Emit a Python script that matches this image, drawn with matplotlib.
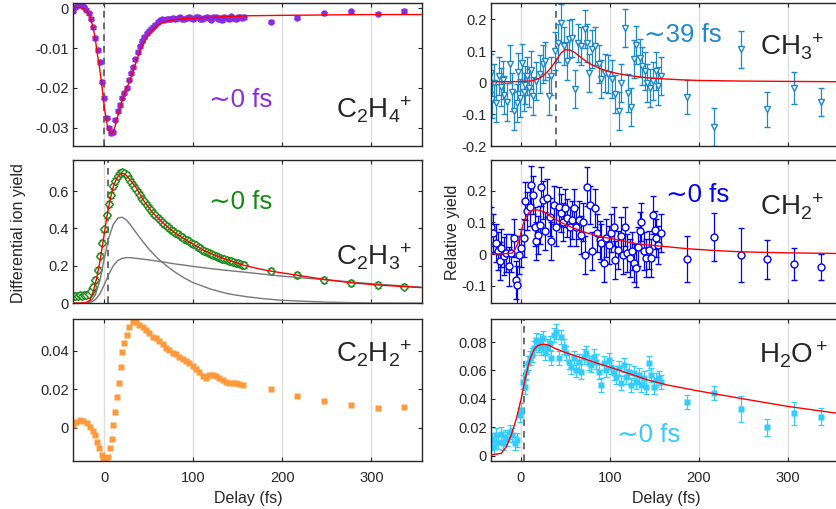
import matplotlib
matplotlib.use("Agg")
import matplotlib.pyplot as plt
from matplotlib.ticker import FormatStrFormatter

plt.rcParams["font.family"] = ["Liberation Sans", "DejaVu Sans"]
plt.rcParams["axes.unicode_minus"] = False
plt.rcParams["mathtext.fontset"] = "custom"
plt.rcParams["mathtext.rm"] = "Liberation Sans"
plt.rcParams["mathtext.it"] = "Liberation Sans:italic"
plt.rcParams["mathtext.bf"] = "Liberation Sans:bold"

# ---- data ----
# common scan grid for the smooth traces
t_scan = [-35, -32.5, -30, -27.5, -25, -22.5, -20, -17.5, -15, -12.5,
          -10, -7.5, -5, -2.5, 0, 2.5, 5, 7.5, 10, 12.5,
          15, 17.5, 20, 22.5, 25, 27.5, 30, 32.5, 35, 37.5,
          40, 42.5, 45, 47.5, 50, 52.5, 55, 57.5, 60, 62.5,
          65, 67.5, 70, 72.5, 75, 77.5, 80, 82.5, 85, 87.5,
          90, 92.5, 95, 97.5, 100, 102.5, 105, 107.5, 110, 112.5,
          115, 117.5, 120, 122.5, 125, 127.5, 130, 132.5, 135, 137.5,
          140, 142.5, 145, 147.5, 150, 152.5, 155, 157.5]
t_sparse = [187, 217, 247, 277, 307, 337]

# C2H4+
c2h4_y = [-0.0006, 0.0002, 0.0009, 0.0010, 0.0007, 0.0002, -0.0004, -0.0013, -0.0026, -0.0048,
          -0.0075, -0.0105, -0.0135, -0.0185, -0.0225, -0.0275, -0.0300, -0.0314, -0.0312, -0.0280,
          -0.0258, -0.0243, -0.0225, -0.0212, -0.0200, -0.0180, -0.0163, -0.0148, -0.0128, -0.0110,
          -0.0096, -0.0082, -0.0072, -0.0063, -0.0057, -0.0052, -0.0046, -0.0041, -0.0034, -0.0030,
          -0.0028, -0.0029, -0.0027, -0.0028, -0.0026, -0.0024, -0.0027, -0.0025, -0.0023, -0.0026,
          -0.0028, -0.0024, -0.0022, -0.0025, -0.0027, -0.0023, -0.0021, -0.0026, -0.0028, -0.0024,
          -0.0022, -0.0025, -0.0029, -0.0023, -0.0021, -0.0026, -0.0024, -0.0030, -0.0022, -0.0025,
          -0.0027, -0.0020, -0.0024, -0.0028, -0.0023, -0.0021, -0.0025, -0.0022]
c2h4_sparse = [-0.0034, -0.0024, -0.0013, -0.0008, -0.0014, -0.0007]
c2h4_err = 0.0004
c2h4_fit_t = [-35.5, -30, -25, -20, -16, -12.5, -10, -8.5, -5, -3, 0, 2, 4, 6.5, 8, 10, 12, 14,
              17, 20, 24, 28.5, 32, 36, 40, 44, 48, 51, 55, 58.5, 65, 73.5, 85, 100, 130,
              164, 200, 250, 300, 356]
c2h4_fit_y = [0.0002, 0.0002, 0.0, -0.0006, -0.0021, -0.0050, -0.0078, -0.0105, -0.0155, -0.0188,
              -0.0248, -0.0278, -0.0300, -0.0313, -0.0315, -0.0310, -0.0298, -0.0280, -0.0256,
              -0.0232, -0.0205, -0.0184, -0.0160, -0.0134, -0.0108, -0.0090, -0.0073, -0.0063,
              -0.0053, -0.0046, -0.0037, -0.0031, -0.0027, -0.0025, -0.0022, -0.0019, -0.0018,
              -0.0017, -0.0016, -0.0016]

# CH3+
ch3_t = [-34, -32.5, -30.5, -27.5, -25, -22, -20.5, -18.5, -15.5, -12,
         -10, -8, -5, -3, -1.5, 1.5, 3, 5, 7, 9.5,
         11, 13.5, 17, 21, 24.5, 27.5, 31, 34, 38, 41.5,
         45.5, 48.5, 52, 54.5, 57.5, 61, 64, 67, 71.5, 74.5,
         77, 80, 83.5, 87.5, 90.5, 94, 98, 102, 106, 110,
         112.5, 116.5, 120, 124, 127, 129.5, 133.5, 136, 139, 142,
         145.5, 148.5, 152, 154.5, 157]
ch3_y = [0.030, -0.050, 0.000, -0.063, 0.020, -0.013, 0.010, -0.040, -0.061, 0.058,
         -0.030, -0.090, -0.063, 0.035, -0.047, 0.063, -0.030, -0.008, 0.020, -0.016,
         0.040, -0.042, 0.005, 0.026, 0.058, 0.068, -0.042, 0.021, 0.100, 0.126,
         0.190, 0.116, 0.068, 0.137, 0.142, -0.021, 0.126, 0.116, 0.168, 0.126,
         0.032, 0.105, 0.116, 0.058, 0.011, 0.032, 0.026, 0.011, -0.037, -0.090,
         0.000, 0.174, -0.034, -0.076, 0.074, 0.120, 0.079, 0.053, 0.037, 0.000,
         -0.016, 0.005, 0.037, -0.011, 0.020]
ch3_err = 0.06
ch3_sparse = [-0.045, -0.140, 0.105, -0.084, -0.016, -0.061]
ch3_sparse_err = [0.055, 0.060, 0.058, 0.055, 0.050, 0.045]
ch3_fit_t = [-34, -10, 0, 10, 15, 20, 25, 30, 35, 40, 45, 50, 55, 60, 65, 70, 75, 80, 90,
             100, 110, 120, 140, 160, 180, 200, 250, 300, 356]
ch3_fit_y = [0.003, 0.003, 0.004, 0.005, 0.008, 0.013, 0.022, 0.035, 0.052, 0.072, 0.094, 0.104,
             0.103, 0.096, 0.085, 0.074, 0.064, 0.056, 0.043, 0.034, 0.028, 0.023, 0.016, 0.012,
             0.009, 0.007, 0.005, 0.004, 0.003]

# C2H3+
c2h3_y = [0.040, 0.041, 0.040, 0.042, 0.041, 0.043, 0.045, 0.052, 0.065, 0.088,
          0.125, 0.180, 0.255, 0.325, 0.395, 0.470, 0.530, 0.580, 0.625, 0.655,
          0.680, 0.695, 0.700, 0.695, 0.685, 0.665, 0.650, 0.630, 0.615, 0.595,
          0.578, 0.560, 0.545, 0.528, 0.512, 0.497, 0.484, 0.470, 0.458, 0.447,
          0.435, 0.424, 0.413, 0.404, 0.394, 0.386, 0.378, 0.370, 0.362, 0.354,
          0.346, 0.339, 0.331, 0.325, 0.318, 0.310, 0.302, 0.295, 0.287, 0.281,
          0.275, 0.268, 0.263, 0.258, 0.253, 0.248, 0.243, 0.239, 0.235, 0.232,
          0.228, 0.224, 0.221, 0.217, 0.213, 0.210, 0.207, 0.204]
c2h3_sparse = [0.174, 0.152, 0.125, 0.107, 0.098, 0.089]
c2h3_err = 0.015
c2h3_fit_t = [-35.5, -25, -20, -16, -12.4, -8.6, -4.9, -1.1, 2.6, 6.4, 10.1, 13.9, 17.6, 21.4,
              25.1, 28.9, 36.3, 43.8, 55, 66.3, 77.5, 88.8, 100, 111.3, 122.5, 133.8, 145,
              156.3, 175, 187, 217, 247, 277, 307, 337, 356]
c2h3_fit_y = [0.0, 0.001, 0.005, 0.017, 0.063, 0.134, 0.223, 0.339, 0.454, 0.552, 0.624, 0.668,
              0.692, 0.695, 0.683, 0.660, 0.615, 0.552, 0.481, 0.428, 0.383, 0.347, 0.315, 0.284,
              0.261, 0.240, 0.222, 0.204, 0.183, 0.172, 0.150, 0.128, 0.110, 0.098, 0.089, 0.084]
comp_t = [-35.5, -25, -20, -15, -10, -5, 0, 5, 10, 15, 20, 25, 30, 40, 50, 60, 70, 80, 90, 100,
          120, 140, 160, 180, 200, 250, 300, 356]
comp_fast = [0.0, 0.0, 0.003, 0.012, 0.045, 0.120, 0.240, 0.350, 0.420, 0.455, 0.460, 0.445,
             0.415, 0.350, 0.290, 0.240, 0.200, 0.165, 0.135, 0.110, 0.075, 0.050, 0.035, 0.024,
             0.016, 0.006, 0.002, 0.001]
comp_slow = [0.0, 0.0, 0.001, 0.005, 0.020, 0.050, 0.100, 0.155, 0.200, 0.228, 0.240, 0.244,
             0.244, 0.238, 0.232, 0.225, 0.218, 0.210, 0.204, 0.197, 0.185, 0.175, 0.165, 0.155,
             0.145, 0.125, 0.105, 0.086]

# CH2+
ch2_t = [-33.3, -31.4, -27.7, -25.8, -23.9, -22.1, -19.1, -16.5, -13.9, -10.9,
         -7.9, -5.3, -4.2, -2.7, 0.4, 3.4, 4.9, 7.1, 9.7, 11.6,
         13.5, 15.4, 17.2, 19.1, 21.0, 22.8, 24.7, 27.3, 29.6, 32.2,
         34.1, 37.1, 39.7, 42.3, 44.6, 47.2, 49.8, 52.1, 54.7, 57.3,
         59.6, 62.2, 64.8, 67.1, 69.7, 71.5, 74.5, 77.1, 79.8, 82.8,
         85.8, 88.4, 90.3, 93.3, 95.9, 98.5, 101.5, 104.5, 106.0, 109.0,
         112.0, 114.6, 116.5, 119.5, 122.1, 124.7, 126.9, 129.6, 131.5, 133.3,
         135.2, 138.2, 140.8, 143.4, 145.7, 148.3, 150.2, 152.1, 154.0, 157.0]
ch2_y = [0.087, 0.066, 0.035, 0.009, -0.023, 0.019, -0.007, 0.003, -0.039, 0.003,
         0.050, -0.081, -0.097, -0.002, 0.019, 0.050, 0.166, 0.135, 0.150, 0.218,
         0.187, 0.087, 0.040, 0.061, 0.092, 0.213, 0.171, 0.072, 0.176, 0.118,
         0.040, 0.155, 0.087, 0.150, 0.129, 0.102, 0.144, 0.113, 0.087, 0.107,
         0.144, 0.087, 0.107, 0.061, 0.102, -0.002, 0.213, 0.155, 0.009, 0.144,
         0.066, 0.045, 0.035, -0.028, 0.050, 0.030, 0.066, 0.087, -0.018, 0.014,
         0.056, -0.002, 0.087, 0.003, -0.013, 0.009, -0.028, -0.044, 0.024, 0.072,
         0.102, 0.009, -0.013, 0.014, -0.013, 0.124, 0.077, 0.050, 0.030, 0.066]
ch2_err = 0.06
ch2_sparse = [-0.016, 0.053, -0.003, -0.016, -0.031, -0.041]
ch2_sparse_err = [0.072, 0.075, 0.085, 0.062, 0.050, 0.040]
ch2_fit_t = [-34, -20, -10, -7.1, -4, -1.5, 2.2, 5.9, 8.5, 11.6, 15, 19.1, 23, 28.5, 33, 37.8,
             45, 52.8, 60, 67.8, 76, 86.5, 95, 105.2, 115, 127.7, 138, 150.2, 169, 187, 220,
             250, 300, 354]
ch2_fit_y = [0.001, 0.001, 0.003, 0.013, 0.030, 0.050, 0.092, 0.118, 0.130, 0.136, 0.139, 0.139,
             0.136, 0.129, 0.120, 0.111, 0.100, 0.090, 0.081, 0.073, 0.065, 0.057, 0.052, 0.047,
             0.041, 0.034, 0.030, 0.027, 0.022, 0.017, 0.011, 0.007, 0.004, 0.002]

# C2H2+
c2h2_t = [-35.5, -31.8, -27.3, -23.6, -19.8, -16.1, -13.1, -10.5, -7.9, -5.7,
          -3.1, -1.2, 1.8, 4.4, 6.3, 8.2, 10.1, 11.9, 13.8, 16.4,
          18.3, 20.2, 22, 25, 27.6, 31.8, 35.5, 39.2, 43, 46.7,
          50.4, 54.2, 57.9, 61.7, 65.4, 69.2, 72.9, 76.7, 80.4, 84.2,
          87.9, 91.7, 95.4, 99.2, 102.9, 106.7, 110.4, 114.2, 117.9, 121.7,
          125.4, 129.2, 132.9, 136.7, 140.4, 144.2, 147.9, 151.7, 155.4]
c2h2_y = [0.0014, 0.0030, 0.0039, 0.0034, 0.0022, 0.0005, -0.0017, -0.0038, -0.0073, -0.0107,
          -0.0142, -0.0163, -0.0160, -0.0150, -0.0107, -0.0059, 0.0014, 0.0083, 0.0161, 0.0234,
          0.0314, 0.0395, 0.0442, 0.0482, 0.0525, 0.0551, 0.0547, 0.0533, 0.0525, 0.0508,
          0.0490, 0.0473, 0.0465, 0.0451, 0.0434, 0.0416, 0.0404, 0.0390, 0.0381, 0.0369,
          0.0357, 0.0346, 0.0334, 0.0322, 0.0304, 0.0287, 0.0269, 0.0259, 0.0273, 0.0273,
          0.0268, 0.0259, 0.0247, 0.0239, 0.0234, 0.0234, 0.0230, 0.0225, 0.0222]
c2h2_sparse = [0.0201, 0.0166, 0.0139, 0.0119, 0.0102, 0.0108]

# H2O+
h2o_t = [-35.2, -32.6, -30.3, -27.7, -25.8, -22.8, -20.2, -18.4, -15.4, -12.7,
         -10.1, -7.1, -4.1, -1.5, 0.4, 2.2, 4.1, 6.0, 7.9, 9.7,
         12.4, 14.6, 17.2, 19.1, 21.0, 22.8, 24.7, 26.6, 29.6, 32.2,
         34.1, 37.1, 39.7, 42.3, 45.3, 48.3, 50.9, 53.6, 56.6, 59.6,
         62.2, 64.8, 67.8, 70.8, 73.4, 76.0, 79.0, 82.0, 84.6, 87.3,
         90.3, 93.3, 95.9, 98.5, 101.5, 104.5, 107.1, 109.8, 112.7, 115.7,
         118.4, 121.0, 124.0, 126.9, 129.6, 132.2, 135.2, 138.2, 140.8, 143.4,
         146.4, 149.4, 152.1, 154.7, 157.0]
h2o_y = [0.0087, 0.0111, 0.0064, 0.0144, 0.0097, 0.0155, 0.0087, 0.0134, 0.0118, 0.0169,
         0.0146, 0.0087, 0.0111, 0.0286, 0.0322, 0.0521, 0.0486, 0.0592, 0.0651, 0.0686,
         0.0709, 0.0756, 0.0815, 0.0780, 0.0803, 0.0756, 0.0827, 0.0721, 0.0768, 0.0792,
         0.0686, 0.0850, 0.0874, 0.0686, 0.0838, 0.0768, 0.0721, 0.0663, 0.0627, 0.0686,
         0.0604, 0.0663, 0.0592, 0.0698, 0.0721, 0.0651, 0.0639, 0.0698, 0.0663, 0.0592,
         0.0498, 0.0651, 0.0604, 0.0674, 0.0627, 0.0580, 0.0557, 0.0616, 0.0510, 0.0639,
         0.0557, 0.0592, 0.0498, 0.0580, 0.0521, 0.0568, 0.0498, 0.0545, 0.0486, 0.0651,
         0.0568, 0.0486, 0.0533, 0.0545, 0.0521]
h2o_err = 0.005
h2o_sparse = [0.0380, 0.0444, 0.0327, 0.0200, 0.0299, 0.0275]
h2o_sparse_err = [0.005, 0.005, 0.009, 0.006, 0.008, 0.006]
h2o_fit_t = [-34, -22.1, -16.5, -10.9, -5.2, 0.4, 4.1, 7.9, 10.5, 13.5, 16, 19.1, 22.5, 26.6, 31,
             37.8, 45, 52.8, 62, 75.3, 86, 97.8, 110, 120.2, 130, 142.7, 155, 165, 200, 250,
             300, 354]
h2o_fit_y = [0.0005, 0.0017, 0.0063, 0.0146, 0.0260, 0.0404, 0.0521, 0.0627, 0.0685, 0.0732,
             0.0758, 0.0775, 0.0782, 0.0784, 0.0778, 0.0756, 0.0738, 0.0720, 0.0701, 0.0674,
             0.0650, 0.0627, 0.0603, 0.0580, 0.0560, 0.0533, 0.0513, 0.0497, 0.0455, 0.0400,
             0.0347, 0.0300]

# ---- colours ----
PURPLE = "#8A2BE2"
SKY = "#1E88CC"
GREEN = "#1A8C1A"
BLUE = "#0000FF"
ORANGE = "#FF9A3C"
CYAN = "#33CCFF"
RED = "#FF0000"
INK = "#262626"

W, H = 836, 509
fig = plt.figure(figsize=(W / 100, H / 100), dpi=100)


def add_axes(x0, y0, x1, y1):
    return fig.add_axes([x0 / W, 1 - y1 / H, (x1 - x0) / W, (y1 - y0) / H])


def style(ax, xlim, ylim, yticks, xlabels, right_spine=True):
    ax.set_xlim(xlim)
    ax.set_ylim(ylim)
    ax.set_xticks([0, 100, 200, 300])
    ax.set_yticks(yticks)
    ax.yaxis.set_major_formatter(FormatStrFormatter("%g"))
    ax.grid(axis="x", color="#dddddd", lw=1)
    ax.set_axisbelow(True)
    for s in ax.spines.values():
        s.set_color(INK)
        s.set_linewidth(1)
    ax.spines["right"].set_visible(right_spine)
    ax.tick_params(direction="in", length=3, width=0.8, top=True, right=right_spine,
                   labelsize=10.5, colors=INK, pad=3)
    ax.tick_params(axis="x", labelbottom=xlabels, pad=7.5)


def dashed(ax, t0):
    ax.axvline(t0, color="#555555", lw=1.2, ls=(0, (4, 3)), zorder=1.5)


def label(ax, x, y, text, color, size):
    ax.text(x, y, text, transform=ax.transAxes, color=color, fontsize=size,
            ha="left", va="baseline", family=["Liberation Sans", "DejaVu Sans"])


rows = [(3, 146), (160, 303.3), (319, 461)]
xl_left = (72.7, 422)
xl_right = (490.7, 836)
lim_left = (-35.5, (422 - 104.3) / 0.89)
lim_right = (-34.0, 354.0)

ax1 = add_axes(xl_left[0], rows[0][0], xl_left[1], rows[0][1])
ax2 = add_axes(xl_right[0], rows[0][0], xl_right[1], rows[0][1])
ax3 = add_axes(xl_left[0], rows[1][0], xl_left[1], rows[1][1])
ax4 = add_axes(xl_right[0], rows[1][0], xl_right[1], rows[1][1])
ax5 = add_axes(xl_left[0], rows[2][0], xl_left[1], rows[2][1])
ax6 = add_axes(xl_right[0], rows[2][0], xl_right[1], rows[2][1])

eb = dict(linestyle="none", elinewidth=0.9, capthick=0.9, capsize=2.2)
FS = 18.5      # delay annotations
SP_L = 20      # species, left column
SP_R = 20      # species, right column

# C2H4+
style(ax1, lim_left, (-0.0346, 0.0013), [-0.03, -0.02, -0.01, 0], False)
dashed(ax1, 0)
ax1.errorbar(t_scan, c2h4_y, yerr=c2h4_err, marker="o", ms=3.6, color=PURPLE, mec=PURPLE, **eb)
ax1.errorbar(t_sparse, c2h4_sparse, yerr=c2h4_err, marker="o", ms=3.6, color=PURPLE, **eb)
ax1.plot(c2h4_fit_t, c2h4_fit_y, color=RED, lw=1, zorder=5)
label(ax1, 0.391, 0.275, "\u223c0 fs", PURPLE, FS)
label(ax1, 0.753, 0.194, r"$\mathrm{C_2H_4\!{}^+}$", INK, SP_L)

# CH3+
style(ax2, lim_right, (-0.2, 0.2516), [-0.2, -0.1, 0, 0.1, 0.2], False, right_spine=False)
dashed(ax2, 39)
ax2.errorbar(ch3_t, ch3_y, yerr=ch3_err, marker="v", ms=5, mfc="white", mec=SKY, color=SKY,
             mew=1, **eb)
ax2.errorbar(t_sparse, ch3_sparse, yerr=ch3_sparse_err, marker="v", ms=5, mfc="white", mec=SKY,
             color=SKY, mew=1, **eb)
ax2.plot(ch3_fit_t, ch3_fit_y, color=RED, lw=1, zorder=5)
label(ax2, 0.444, 0.729, "\u223c39 fs", SKY, FS)
label(ax2, 0.78, 0.636, r"$\mathrm{CH_3\!{}^+}$", INK, SP_R)

# C2H3+
style(ax3, lim_left, (0, 0.766), [0, 0.2, 0.4, 0.6], False)
dashed(ax3, 4)
ax3.errorbar(t_scan, c2h3_y, yerr=c2h3_err, marker="D", ms=3.8, mfc="white", mec=GREEN,
             color=GREEN, mew=1, **eb)
ax3.errorbar(t_sparse, c2h3_sparse, yerr=c2h3_err, marker="D", ms=3.8, mfc="white", mec=GREEN,
             color=GREEN, mew=1, **eb)
ax3.plot(comp_t, comp_fast, color="#777777", lw=1, zorder=4)
ax3.plot(comp_t, comp_slow, color="#777777", lw=1, zorder=4)
ax3.plot(c2h3_fit_t, c2h3_fit_y, color=RED, lw=1, zorder=5)
label(ax3, 0.389, 0.656, "\u223c0 fs", "#138A13", FS)
label(ax3, 0.753, 0.267, r"$\mathrm{C_2H_3\!{}^+}$", INK, SP_L)

# CH2+
style(ax4, lim_right, (-0.155, 0.2966), [-0.1, 0, 0.1, 0.2], False, right_spine=False)
ax4.errorbar(ch2_t, ch2_y, yerr=ch2_err, marker="o", ms=5, mfc="white", mec=BLUE, color=BLUE,
             mew=1, **eb)
ax4.errorbar(t_sparse, ch2_sparse, yerr=ch2_sparse_err, marker="o", ms=5, mfc="white", mec=BLUE,
             color=BLUE, mew=1, **eb)
ax4.plot(ch2_fit_t, ch2_fit_y, color=RED, lw=1, zorder=5)
label(ax4, 0.508, 0.709, "\u223c0 fs", BLUE, FS)
label(ax4, 0.78, 0.616, r"$\mathrm{CH_2\!{}^+}$", INK, SP_R)

# C2H2+
style(ax5, lim_left, (-0.0173, 0.0565), [0, 0.02, 0.04], True)
ax5.plot(c2h2_t, c2h2_y, ls="none", marker="s", ms=4, color=ORANGE, mec="none")
ax5.plot(t_sparse, c2h2_sparse, ls="none", marker="s", ms=4, color=ORANGE, mec="none")
label(ax5, 0.753, 0.695, r"$\mathrm{C_2H_2\!{}^+}$", INK, SP_L)

# H2O+
style(ax6, lim_right, (-0.0037, 0.0962), [0, 0.02, 0.04, 0.06, 0.08], True, right_spine=False)
dashed(ax6, 3)
ax6.errorbar(h2o_t, h2o_y, yerr=h2o_err, marker="s", ms=4.3, color=CYAN, mec="none", **eb)
ax6.errorbar(t_sparse, h2o_sparse, yerr=h2o_sparse_err, marker="s", ms=4.3, color=CYAN,
             mec="none", **eb)
ax6.plot(h2o_fit_t, h2o_fit_y, color=RED, lw=1, zorder=5)
label(ax6, 0.365, 0.136, "\u223c0 fs", CYAN, FS)
label(ax6, 0.778, 0.688, r"$\mathrm{H_2O^+}$", INK, SP_R)

# axis titles
fig.text(19 / W, 1 - 233 / H, "Differential ion yield", rotation=90, ha="center", va="center",
         fontsize=11.5, color=INK)
fig.text(452 / W, 1 - 232 / H, "Relative yield", rotation=90, ha="center", va="center",
         fontsize=11.5, color=INK)
fig.text(248 / W, 1 - 499 / H, "Delay (fs)", ha="center", va="center", fontsize=11.5, color=INK)
fig.text(666 / W, 1 - 499 / H, "Delay (fs)", ha="center", va="center", fontsize=11.5, color=INK)

fig.savefig("out.png", dpi=100)
